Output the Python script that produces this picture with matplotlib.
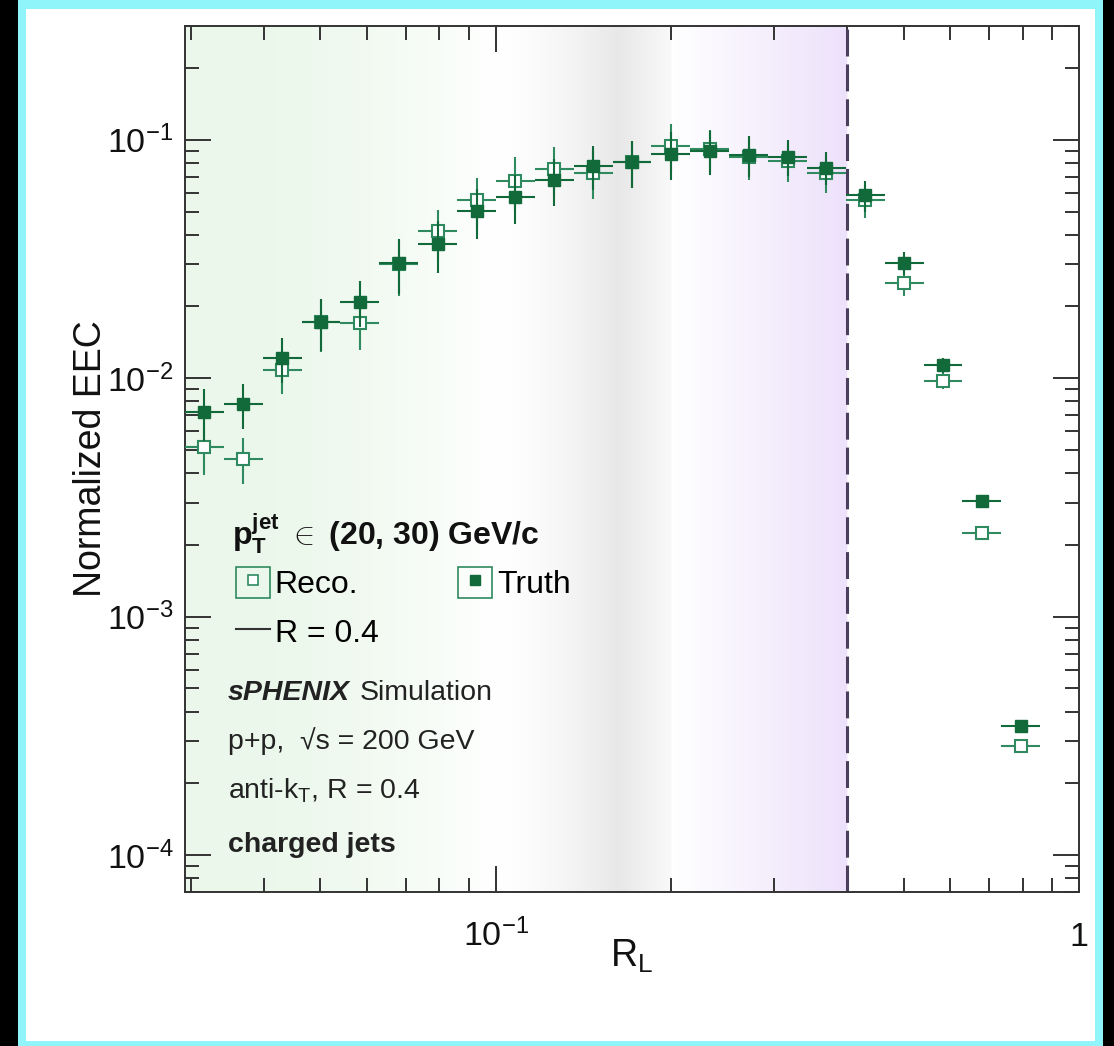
import numpy as np
import matplotlib
matplotlib.use('Agg')
import matplotlib.pyplot as plt
from matplotlib.patches import Rectangle, Patch
from matplotlib.lines import Line2D
from matplotlib.ticker import LogLocator, NullFormatter

plt.rcParams['font.family'] = 'Liberation Sans'
plt.rcParams['mathtext.fontset'] = 'custom'
plt.rcParams['mathtext.rm'] = 'Liberation Sans'
plt.rcParams['mathtext.it'] = 'Liberation Sans:italic'
plt.rcParams['mathtext.bf'] = 'Liberation Sans:bold'
plt.rcParams['mathtext.sf'] = 'Liberation Sans'

# R_L bin edges (log bins)
rl_edges = [0.02929, 0.03415, 0.03981, 0.04642, 0.05412, 0.06310, 0.07356,
            0.08577, 0.1000, 0.1166, 0.1359, 0.1585, 0.1848, 0.2154, 0.2512,
            0.2929, 0.3415, 0.3981, 0.4642, 0.5412, 0.6310, 0.7356, 0.8577]

truth = [0.00724, 0.00780, 0.01216, 0.01726, 0.02094, 0.0304, 0.0367, 0.0504,
         0.0577, 0.0680, 0.0778, 0.0809, 0.0876, 0.0899, 0.0866, 0.0849,
         0.0765, 0.0586, 0.0304, 0.01135, 0.00306, 0.000349]
truth_err = [0.0018, 0.0017, 0.0026, 0.0043, 0.0046, 0.0078, 0.0090, 0.0120,
             0.0135, 0.0150, 0.0165, 0.0180, 0.0200, 0.0185, 0.0168, 0.0145,
             0.0120, 0.0088, 0.0033, 0.0008, 0.0001, 0.000008]

reco = [0.00513, 0.00459, 0.01086, 0.0172, 0.01698, 0.0300, 0.0415, 0.0559,
        0.0673, 0.0754, 0.0729, 0.0805, 0.0944, 0.0914, 0.0843, 0.0817,
        0.0724, 0.0559, 0.0251, 0.00977, 0.00225, 0.000288]
reco_err = [0.0012, 0.0010, 0.0023, 0.0043, 0.0038, 0.0078, 0.0095, 0.0135,
            0.0170, 0.0180, 0.0165, 0.0180, 0.0220, 0.0190, 0.0165, 0.0150,
            0.0125, 0.0087, 0.0030, 0.0008, 0.0001, 0.000008]

jet_radius = 0.4
x_range = (0.02929, 1.0)
y_range = (7e-5, 0.3)

truth_color = '#12693a'
reco_color = '#2f8a5f'
ink = '#333333'

edges = np.array(rl_edges)
centers = np.sqrt(edges[:-1] * edges[1:])
xerr = [centers - edges[:-1], edges[1:] - centers]

fig = plt.figure(figsize=(11.14, 10.46), dpi=100)
fig.patch.set_facecolor('black')
fig.add_artist(Rectangle((18 / 1114, 0), 1085 / 1114, 1, transform=fig.transFigure,
                         facecolor='#8ff5fa', edgecolor='none', zorder=-10))
fig.add_artist(Rectangle((26 / 1114, 5 / 1046), 1069 / 1114, 1032 / 1046,
                         transform=fig.transFigure, facecolor='white',
                         edgecolor='none', zorder=-9))

ax = fig.add_axes([0.1661, 0.1472, 0.8025, 0.8279])

# shaded R_L regions (green / gray / purple gradients)
ncol = 1200
lmin, lmax = np.log10(x_range[0]), np.log10(x_range[1])
lx = lmin + (np.arange(ncol) + 0.5) / ncol * (lmax - lmin)
img = np.ones((1, ncol, 3))
for i, l in enumerate(lx):
    if l < -1:
        t = (l - lmin) / (-1 - lmin)
        w = 1 - t ** 2
        base = np.array([0.92, 0.97, 0.92])
    elif l < np.log10(0.2):
        t = (l + 1) / np.log10(2)
        w = (t / 0.7) ** 1.5 if t < 0.7 else 1 - 0.75 * (t - 0.7) / 0.3
        base = np.array([0.91, 0.91, 0.91])
    elif l < np.log10(jet_radius):
        t = (l - np.log10(0.2)) / np.log10(2)
        w = t
        base = np.array([0.93, 0.885, 0.985])
    else:
        w = 0
        base = np.array([1.0, 1.0, 1.0])
    img[0, i] = 1 - w * (1 - base)
ax.imshow(img, extent=(0, 1, 0, 1), transform=ax.transAxes, aspect='auto',
          interpolation='bilinear', zorder=0)

ax.set_xscale('log')
ax.set_yscale('log')

ax.axvline(jet_radius, color='#4a3f5c', lw=2.2, dashes=(8.8, 2.6), zorder=2)

ax.errorbar(centers, reco, xerr=xerr, yerr=reco_err, fmt='s', ms=9,
            mfc='white', mec=reco_color, mew=1.5, ecolor=reco_color,
            elinewidth=1.5, capsize=0, zorder=3)
ax.errorbar(centers, truth, xerr=xerr, yerr=truth_err, fmt='s', ms=9,
            mfc=truth_color, mec=truth_color, mew=1.0, ecolor=truth_color,
            elinewidth=1.5, capsize=0, zorder=4)

ax.set_xlim(*x_range)
ax.set_ylim(*y_range)

# ticks
ax.set_xticks([0.1, 1], labels=[r'$10^{-1}$', '1'])
ax.xaxis.set_minor_locator(LogLocator(base=10, subs=np.arange(2, 10), numticks=20))
ax.xaxis.set_minor_formatter(NullFormatter())
ax.yaxis.set_major_locator(LogLocator(base=10, numticks=20))
ax.yaxis.set_minor_locator(LogLocator(base=10, subs=np.arange(2, 10), numticks=20))
ax.yaxis.set_minor_formatter(NullFormatter())
ax.tick_params(which='both', direction='in', top=True, right=True,
               color=ink, width=1.4, labelsize=24.5, labelcolor='#111111')
ax.tick_params(which='major', length=19)
ax.tick_params(which='minor', length=10)
ax.tick_params(axis='y', pad=8.6)
ax.tick_params(axis='x', pad=38.9)
for lbl in ax.get_xticklabels():
    lbl.set_va('baseline')
for sp in ax.spines.values():
    sp.set_color(ink)
    sp.set_linewidth(1.4)

ax.set_ylabel('Normalized EEC', fontsize=27, color='#111111')
ax.yaxis.set_label_coords(-0.085, 0.5)
ax.set_xlabel(r'R$_{\mathrm{L}}$', fontsize=27, color='#111111')
ax.xaxis.set_label_coords(0.5, -0.0866)
ax.xaxis.label.set_va('baseline')

# legend and annotations
ax.text(0.052, 0.4007, r'$\mathbf{p}_{\mathbf{T}}^{\mathbf{jet}}$ $\in$ (20, 30) GeV/c',
        transform=ax.transAxes, fontsize=23, fontweight='bold', va='baseline',
        color='#111111')

h_reco = (Patch(facecolor='none', edgecolor=reco_color, lw=1.2),
          Line2D([], [], ls='none', marker='s', ms=7.5, mfc='white',
                 mec=reco_color, mew=1.2))
h_truth = (Patch(facecolor='none', edgecolor=reco_color, lw=1.2),
           Line2D([], [], ls='none', marker='s', ms=7.5, mfc=truth_color,
                  mec=truth_color))
h_r = Line2D([], [], color=ink, lw=1.5)
ax.legend([h_reco, h_r, h_truth], ['Reco.', 'R = 0.4', 'Truth'], ncol=2,
          loc='upper left', bbox_to_anchor=(0.057, 0.3753), frameon=False,
          fontsize=23, handlelength=1.06, handleheight=1.1, handletextpad=0.15,
          columnspacing=2.5, borderpad=0, borderaxespad=0, labelspacing=0.5)

t = ax.text(0.048, 0.2217, 'sPHENIX', transform=ax.transAxes, fontsize=20.5,
            fontweight='bold', style='italic', va='baseline', color='#222222')
ax.annotate('Simulation', xy=(1, 0), xycoords=t, xytext=(7, 0),
            textcoords='offset points', va='bottom', ha='left', fontsize=20.5,
            color='#222222')
ax.text(0.048, 0.1651, 'p+p,  \u221as = 200 GeV', transform=ax.transAxes,
        fontsize=20.5, va='baseline', color='#222222')
ax.text(0.048, 0.1085, r'anti-k$_{\mathrm{T}}$, R = 0.4', transform=ax.transAxes,
        fontsize=20.5, va='baseline', color='#222222')
ax.text(0.048, 0.0462, 'charged jets', transform=ax.transAxes, fontsize=20.5,
        fontweight='bold', va='baseline', color='#222222')

fig.savefig('out.png', dpi=100)
plt.close(fig)
